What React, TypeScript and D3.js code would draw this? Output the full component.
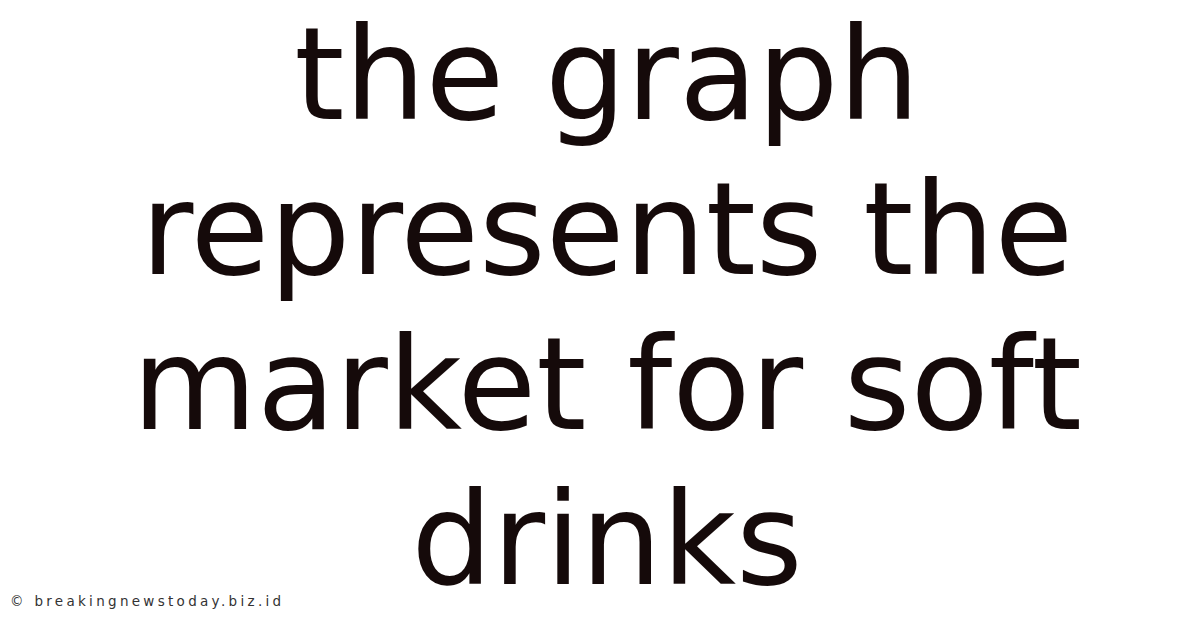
import React, { useEffect, useRef } from 'react';
import * as d3 from 'd3';

// Title lines as shown in the picture
const titleLines: string[] = ['the graph', 'represents the', 'market for soft', 'drinks'];
const footerText = '© breakingnewstoday.biz.id';

const App: React.FC = () => {
  const svgRef = useRef<SVGSVGElement>(null);

  useEffect(() => {
    if (!svgRef.current) return;
    const svg = d3.select(svgRef.current);
    svg.selectAll('*').remove();

    const width = 1200;
    const height = 628;

    svg.attr('width', width).attr('height', height);

    svg.append('rect')
      .attr('width', width)
      .attr('height', height)
      .attr('fill', '#ffffff');

    // one baseline per line of the title
    const yScale = d3
      .scaleLinear()
      .domain([0, titleLines.length - 1])
      .range([119, 584]);

    svg.selectAll('.title-line')
      .data(titleLines)
      .enter()
      .append('text')
      .attr('class', 'title-line')
      .attr('x', 607)
      .attr('y', (d, i) => yScale(i))
      .attr('text-anchor', 'middle')
      .style('font-family', '"DejaVu Sans", sans-serif')
      .style('font-size', '128px')
      .style('fill', '#150a0a')
      .text(d => d);

    svg.append('text')
      .attr('x', 10)
      .attr('y', 606)
      .style('font-family', '"DejaVu Sans", sans-serif')
      .style('font-size', '13.5px')
      .style('fill', '#333333')
      .style('letter-spacing', '3.3px')
      .text(footerText);
  }, []);

  return (
    <div style={{ position: 'absolute', left: 0, top: 0, width: 1200, height: 628, overflow: 'hidden' }}>
      <svg ref={svgRef} style={{ display: 'block' }}></svg>
    </div>
  );
};

export default App;
